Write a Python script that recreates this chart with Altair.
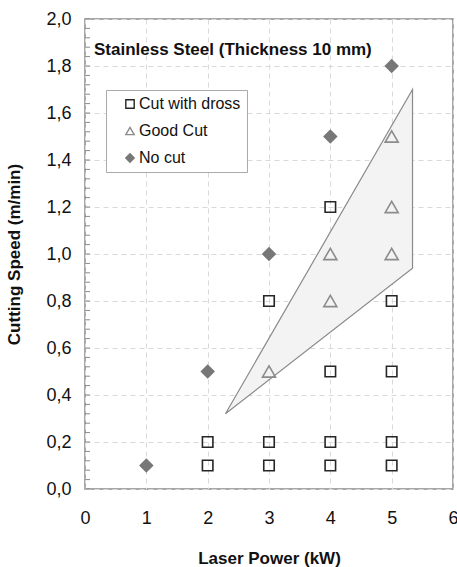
import altair as alt
import pandas as pd

# Data
dross_x = [2, 3, 4, 5, 2, 3, 4, 5, 4, 5, 3, 5, 4]
dross_y = [0.1, 0.1, 0.1, 0.1, 0.2, 0.2, 0.2, 0.2, 0.5, 0.5, 0.8, 0.8, 1.2]
good_x = [3, 4, 4, 5, 5, 5]
good_y = [0.5, 0.8, 1.0, 1.0, 1.2, 1.5]
nocut_x = [1, 2, 3, 4, 5]
nocut_y = [0.1, 0.5, 1.0, 1.5, 1.8]

categories = ["Cut with dross", "Good Cut", "No cut"]
marker_sizes = [110, 170, 150]

title_text = ["Stainless Steel (Thickness 10 mm)"]

# Good-cut region polygon (apex on the left, vertical edge on the right)
region_x = [2.29, 5.34]
region_upper = [0.32, 1.70]
region_lower = [0.32, 0.94]

minor_ticks = [round(i * 0.04, 2) for i in range(0, 51)]

series = [(dross_x, dross_y), (good_x, good_y), (nocut_x, nocut_y)]
frames = []
for cat, (xs, ys) in zip(categories, series):
    frames.append(pd.DataFrame({"power": xs, "speed": ys, "type": cat}))

region = pd.DataFrame({"power": region_x, "speed": region_upper, "speed2": region_lower})
ticks_df = pd.DataFrame({"speed": minor_ticks})
title_df = pd.DataFrame({"label": title_text})

FONT = "Liberation Sans"

x_scale = alt.Scale(domain=[0, 6], nice=False, zero=True)
y_scale = alt.Scale(domain=[0, 2.0], nice=False)

x_axis = alt.Axis(
    values=[0, 1, 2, 3, 4, 5, 6], ticks=False, domain=False,
    grid=True, gridColor="#d9d9d9", gridDash=[5, 4], gridWidth=1,
    labelFont=FONT, labelFontSize=18, labelColor="#111", labelPadding=20,
    labelExpr="format(datum.value, 'd')",
    labelFlush=False, labelOverlap=False,
    title="Laser Power (kW)", titleFont=FONT, titleFontSize=17,
    titleFontWeight="bold", titleColor="#111", titleBaseline="middle",
    titleY=69,
)
y_axis = alt.Axis(
    values=[round(i * 0.2, 1) for i in range(11)], ticks=False, domain=False,
    grid=True, gridColor="#d9d9d9", gridDash=[5, 4], gridWidth=1,
    labelFont=FONT, labelFontSize=18, labelColor="#111", labelPadding=14,
    labelExpr="replace(format(datum.value, '.1f'), '.', ',')",
    labelFlush=False, labelOverlap=False,
    title="Cutting Speed (m/min)", titleFont=FONT, titleFontSize=17,
    titleFontWeight="bold", titleColor="#111", titleBaseline="middle",
    titleX=-71, titleY=235, titleAngle=270, titleAlign="center",
)

area = alt.Chart(region).mark_area(
    fill="#f3f3f3", stroke="#8a8a8a", strokeWidth=1.2, interpolate="linear"
).encode(
    x=alt.X("power:Q", scale=x_scale, axis=x_axis),
    y=alt.Y("speed:Q", scale=y_scale, axis=y_axis),
    y2="speed2:Q",
)

minor = alt.Chart(ticks_df).mark_rule(color="#8a8a8a", strokeWidth=1).encode(
    y=alt.Y("speed:Q", scale=y_scale),
    x=alt.value(0),
    x2=alt.value(5),
)

title_mark = alt.Chart(title_df).mark_text(
    align="left", baseline="middle", font=FONT, fontSize=17,
    fontWeight="bold", color="#111",
).encode(
    text="label:N",
    x=alt.value(9),
    y=alt.value(31),
)

legend = alt.Legend(title=None)
shape_scale = alt.Scale(domain=categories, range=["square", "triangle-up", "diamond"])
stroke_scale = alt.Scale(domain=categories, range=["#262626", "#8c8c8c", "#777777"])
fill_scale = alt.Scale(domain=categories, range=["transparent", "transparent", "#777777"])

point_layers = []
for df, size in zip(frames, marker_sizes):
    point_layers.append(
        alt.Chart(df).mark_point(strokeWidth=1.6, opacity=1, size=size).encode(
            x=alt.X("power:Q", scale=x_scale),
            y=alt.Y("speed:Q", scale=y_scale),
            shape=alt.Shape("type:N", scale=shape_scale, legend=legend),
            stroke=alt.Stroke("type:N", scale=stroke_scale, legend=legend),
            fill=alt.Fill("type:N", scale=fill_scale, legend=legend),
        )
    )

chart = alt.layer(area, minor, title_mark, *point_layers).properties(
    width=368,
    height=470,
    autosize=alt.AutoSizeParams(type="none"),
    padding={"left": 85, "top": 19, "right": 4, "bottom": 78},
).configure_view(
    stroke="#8a8a8a", strokeWidth=1.5
).configure_legend(
    orient="none", legendX=21, legendY=71,
    strokeColor="#aaaaaa", fillColor="white", padding=6,
    labelFont=FONT, labelFontSize=16, labelColor="#111",
    symbolSize=70, symbolStrokeWidth=1.4, rowPadding=11,
    labelOffset=1, symbolOffset=10,
)

chart.save("out.html", embed_options={"renderer": "svg", "actions": False})
